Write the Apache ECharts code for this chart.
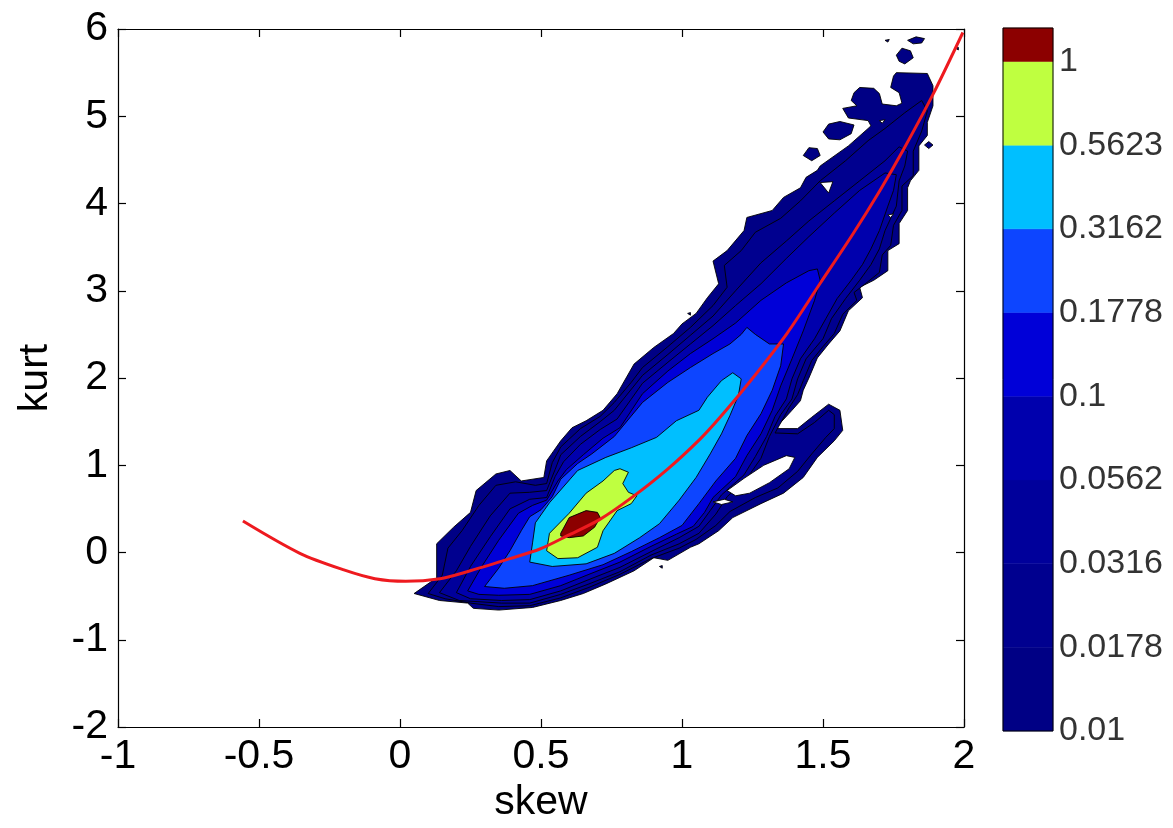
<!DOCTYPE html>
<html><head><meta charset="utf-8">
<script src="https://cdn.jsdelivr.net/npm/echarts/dist/echarts.min.js"></script>
<style>html,body{margin:0;padding:0;background:#fff}#c{width:1173px;height:828px}</style>
</head><body><div id="c"></div>
<script>
// ---- axis ticks / labels ----
const xTicks = { min: -1, max: 2, interval: 0.5 };
const yTicks = { min: -2, max: 6, interval: 1 };
const cbTickLabels = ['0.01','0.0178','0.0316','0.0562','0.1','0.1778','0.3162','0.5623','1'];
const cbBands = [[0,1],[1,2],[2,3],[3,4],[4,5],[5,6],[6,7],[7,8],[8,8.4]];
const levelColors = ['#000085','#00008f','#00009b','#0000ad','#0000d8','#0d45ff','#00bfff','#bfff40','#8c0000'];

// ---- red curve (skew, kurt) ----
const curveSkew = [-0.557,-0.355,-0.199,-0.089,0.02,0.142,0.238,0.39,0.496,0.592,0.709,0.826,0.947,1.064,1.135,1.241,1.372,1.489,1.606,1.702,1.784,1.890,1.996];
const curveKurt = [0.36,-0.01,-0.20,-0.30,-0.33,-0.30,-0.22,-0.07,0.04,0.19,0.38,0.64,0.95,1.30,1.55,1.96,2.51,3.08,3.65,4.15,4.61,5.25,5.96];

// ---- filled contour regions (skew, kurt) ----
const level0 = [[0.05,-0.47],[0.13,-0.29],[0.13,0.10],[0.19,0.29],[0.25,0.46],[0.27,0.71],[0.34,0.90],[0.39,0.94],[0.43,0.82],[0.51,0.86],[0.52,1.05],[0.57,1.28],[0.61,1.43],[0.66,1.51],[0.72,1.63],[0.77,1.82],[0.83,2.16],[0.90,2.35],[0.97,2.51],[1.00,2.62],[1.05,2.74],[1.09,2.92],[1.13,3.08],[1.11,3.34],[1.16,3.46],[1.22,3.69],[1.23,3.84],[1.32,3.92],[1.36,4.07],[1.42,4.18],[1.44,4.30],[1.48,4.38],[1.49,4.43],[1.59,4.66],[1.66,4.86],[1.67,4.89],[1.66,4.95],[1.59,4.98],[1.57,5.09],[1.62,5.12],[1.60,5.18],[1.61,5.27],[1.63,5.33],[1.68,5.32],[1.70,5.26],[1.71,5.14],[1.76,5.12],[1.78,5.15],[1.77,5.27],[1.74,5.33],[1.75,5.46],[1.76,5.50],[1.87,5.49],[1.89,5.35],[1.89,5.12],[1.87,4.93],[1.87,4.78],[1.84,4.66],[1.84,4.51],[1.84,4.38],[1.81,4.26],[1.80,4.18],[1.80,3.92],[1.77,3.77],[1.77,3.54],[1.73,3.46],[1.73,3.23],[1.68,3.12],[1.63,3.04],[1.64,2.92],[1.59,2.77],[1.56,2.54],[1.52,2.39],[1.48,2.23],[1.45,2.00],[1.43,1.86],[1.42,1.74],[1.39,1.63],[1.33,1.42],[1.41,1.42],[1.46,1.55],[1.52,1.70],[1.56,1.63],[1.57,1.40],[1.54,1.28],[1.48,1.09],[1.43,0.86],[1.36,0.68],[1.28,0.56],[1.18,0.40],[1.13,0.25],[1.06,0.10],[1.03,0.06],[0.95,-0.09],[0.90,-0.06],[0.83,-0.21],[0.73,-0.36],[0.65,-0.47],[0.57,-0.55],[0.47,-0.63],[0.35,-0.66],[0.26,-0.64],[0.24,-0.58],[0.14,-0.55]];
const islands0 = [
  [[1.80,5.87],[1.83,5.91],[1.86,5.89],[1.85,5.84],[1.82,5.83]],
  [[1.76,5.70],[1.78,5.78],[1.81,5.75],[1.82,5.67],[1.79,5.60],[1.77,5.63]],
  [[1.50,4.82],[1.52,4.91],[1.56,4.94],[1.61,4.90],[1.60,4.80],[1.56,4.73],[1.52,4.74]],
  [[1.43,4.55],[1.45,4.64],[1.48,4.63],[1.49,4.55],[1.46,4.49]],
  [[1.86,4.67],[1.875,4.71],[1.89,4.67],[1.875,4.63]],
  [[1.72,5.87],[1.735,5.88],[1.73,5.85]],
  [[1.97,5.78],[1.98,5.79],[1.98,5.76]],
  [[1.02,2.74],[1.03,2.75],[1.03,2.72]],
  [[0.92,-0.16],[0.93,-0.15],[0.93,-0.18]]
];
const level1 = [[0.10,-0.47],[0.15,-0.26],[0.17,0.05],[0.22,0.25],[0.28,0.54],[0.34,0.77],[0.41,0.81],[0.48,0.77],[0.52,0.79],[0.54,1.03],[0.57,1.21],[0.64,1.42],[0.71,1.56],[0.76,1.72],[0.82,1.95],[0.86,2.12],[0.95,2.36],[1.03,2.58],[1.11,2.83],[1.16,3.04],[1.15,3.29],[1.21,3.46],[1.26,3.67],[1.35,3.83],[1.42,4.03],[1.49,4.26],[1.58,4.49],[1.66,4.72],[1.72,4.86],[1.79,5.04],[1.85,5.18],[1.87,5.06],[1.85,4.83],[1.82,4.60],[1.82,4.32],[1.78,4.20],[1.78,3.92],[1.75,3.75],[1.74,3.52],[1.71,3.41],[1.70,3.21],[1.65,3.08],[1.61,2.98],[1.62,2.89],[1.57,2.73],[1.54,2.51],[1.50,2.36],[1.46,2.20],[1.43,1.97],[1.41,1.81],[1.38,1.66],[1.33,1.37],[1.41,1.36],[1.47,1.49],[1.52,1.63],[1.54,1.58],[1.54,1.42],[1.51,1.32],[1.46,1.13],[1.41,0.93],[1.34,0.74],[1.26,0.63],[1.17,0.47],[1.12,0.31],[1.05,0.15],[0.99,0.05],[0.89,-0.07],[0.78,-0.25],[0.67,-0.40],[0.57,-0.52],[0.46,-0.61],[0.35,-0.62],[0.25,-0.58],[0.16,-0.53]];
const level2 = [[0.14,-0.46],[0.20,-0.21],[0.25,0.07],[0.32,0.42],[0.39,0.68],[0.46,0.69],[0.52,0.71],[0.55,0.95],[0.57,1.12],[0.64,1.33],[0.71,1.50],[0.76,1.63],[0.86,2.03],[0.95,2.27],[1.03,2.49],[1.11,2.71],[1.19,3.00],[1.28,3.32],[1.37,3.57],[1.45,3.80],[1.54,4.03],[1.63,4.26],[1.72,4.49],[1.77,4.65],[1.80,4.60],[1.79,4.43],[1.77,4.26],[1.76,3.97],[1.72,3.69],[1.70,3.48],[1.67,3.30],[1.63,3.12],[1.58,2.91],[1.53,2.68],[1.50,2.45],[1.44,2.22],[1.41,1.99],[1.39,1.76],[1.35,1.58],[1.31,1.33],[1.28,1.08],[1.23,0.85],[1.16,0.64],[1.12,0.44],[1.06,0.22],[0.99,0.10],[0.89,-0.03],[0.78,-0.22],[0.67,-0.36],[0.57,-0.48],[0.46,-0.58],[0.36,-0.58],[0.21,-0.55]];
const level3 = [[0.20,-0.46],[0.25,-0.16],[0.32,0.18],[0.39,0.50],[0.46,0.61],[0.52,0.63],[0.55,0.87],[0.58,1.04],[0.64,1.24],[0.71,1.41],[0.77,1.53],[0.86,1.94],[0.95,2.18],[1.03,2.39],[1.11,2.60],[1.19,2.83],[1.28,3.08],[1.37,3.37],[1.45,3.62],[1.54,3.89],[1.63,4.15],[1.72,4.35],[1.76,4.33],[1.75,4.15],[1.73,3.97],[1.70,3.69],[1.67,3.48],[1.64,3.30],[1.60,3.12],[1.55,2.91],[1.51,2.68],[1.47,2.45],[1.42,2.22],[1.39,1.99],[1.37,1.76],[1.33,1.56],[1.30,1.33],[1.26,1.10],[1.22,0.89],[1.14,0.66],[1.10,0.48],[1.06,0.30],[0.99,0.17],[0.89,0.01],[0.78,-0.17],[0.67,-0.31],[0.57,-0.44],[0.46,-0.54],[0.36,-0.55],[0.25,-0.53]];
const level4 = [[0.24,-0.44],[0.29,-0.16],[0.35,0.14],[0.42,0.45],[0.47,0.54],[0.52,0.60],[0.56,0.82],[0.59,0.95],[0.65,1.12],[0.72,1.31],[0.78,1.43],[0.86,1.82],[0.95,2.08],[1.03,2.28],[1.11,2.45],[1.19,2.63],[1.28,2.89],[1.37,3.09],[1.45,3.23],[1.48,3.25],[1.49,3.12],[1.47,2.89],[1.43,2.54],[1.39,2.22],[1.35,1.91],[1.32,1.63],[1.28,1.36],[1.23,1.11],[1.19,0.87],[1.11,0.63],[1.08,0.46],[1.04,0.30],[0.98,0.21],[0.89,0.07],[0.78,-0.11],[0.67,-0.25],[0.57,-0.38],[0.46,-0.48],[0.35,-0.49],[0.28,-0.48]];
const level5 = [[0.30,-0.39],[0.35,-0.18],[0.39,0.02],[0.43,0.25],[0.46,0.41],[0.50,0.49],[0.54,0.64],[0.57,0.84],[0.63,1.02],[0.68,1.13],[0.76,1.33],[0.86,1.72],[0.95,1.95],[1.03,2.12],[1.11,2.28],[1.17,2.39],[1.21,2.50],[1.23,2.58],[1.26,2.50],[1.31,2.39],[1.36,2.39],[1.35,2.14],[1.32,1.86],[1.28,1.59],[1.23,1.34],[1.19,1.08],[1.12,0.82],[1.06,0.56],[1.00,0.31],[0.92,0.17],[0.82,0.01],[0.72,-0.14],[0.60,-0.26],[0.47,-0.38],[0.37,-0.41]];
const level6 = [[0.46,-0.11],[0.47,0.11],[0.48,0.34],[0.53,0.57],[0.63,0.94],[0.73,1.09],[0.82,1.20],[0.91,1.32],[0.98,1.51],[1.06,1.63],[1.09,1.78],[1.14,1.97],[1.18,2.06],[1.21,1.99],[1.20,1.80],[1.17,1.57],[1.14,1.36],[1.10,1.13],[1.05,0.86],[0.99,0.60],[0.92,0.33],[0.85,0.17],[0.76,-0.01],[0.66,-0.13],[0.54,-0.16]];
const level7 = [[0.78,0.96],[0.81,0.92],[0.79,0.79],[0.81,0.69],[0.84,0.65],[0.82,0.56],[0.77,0.48],[0.72,0.25],[0.70,0.06],[0.63,-0.06],[0.56,-0.07],[0.52,0.02],[0.53,0.22],[0.60,0.45],[0.66,0.68],[0.72,0.82],[0.76,0.94]];
const level8 = [[0.57,0.22],[0.60,0.40],[0.66,0.48],[0.70,0.46],[0.71,0.40],[0.69,0.29],[0.65,0.19],[0.60,0.17],[0.57,0.19]];
const holes = [
  [[1.16,0.71],[1.22,0.85],[1.29,1.00],[1.37,1.11],[1.40,1.09],[1.38,0.96],[1.31,0.80],[1.24,0.68],[1.19,0.65]],
  [[1.11,0.58],[1.15,0.61],[1.18,0.58],[1.14,0.55]],
  [[1.49,4.24],[1.535,4.25],[1.52,4.12]],
  [[1.70,4.95],[1.72,4.96],[1.71,4.92]],
  [[1.73,3.87],[1.75,3.88],[1.74,3.84]]
];

const FONT = "'Liberation Sans', Arial, Helvetica, sans-serif";

function polySeries(polys, fill) {
  return {
    type: 'custom', coordinateSystem: 'cartesian2d', xAxisIndex: 0, yAxisIndex: 0,
    silent: true, animation: false, clip: true,
    data: polys.map(p => p[0]),
    renderItem: (params, api) => ({
      type: 'polygon',
      shape: { points: polys[params.dataIndex].map(pt => api.coord(pt)) },
      style: { fill: fill, stroke: '#000', lineWidth: 0.9 }
    })
  };
}

const axisLineStyle = { color: '#000', width: 1.2 };
const chart = echarts.init(document.getElementById('c'), null, { renderer: 'canvas' });
const levelsList = [[level0].concat(islands0), [level1], [level2], [level3], [level4], [level5], [level6], [level7], [level8]];
const series = levelsList.map((polys, i) => polySeries(polys, levelColors[i]));
series.push(polySeries(holes, '#ffffff'));
series.push({
  type: 'line', xAxisIndex: 0, yAxisIndex: 0, smooth: 0.3, showSymbol: false, symbol: 'none',
  data: curveSkew.map((s, i) => [s, curveKurt[i]]),
  lineStyle: { color: '#ee1a1f', width: 3 }, z: 5, animation: false, silent: true
});
series.push({
  type: 'custom', coordinateSystem: 'cartesian2d', xAxisIndex: 2, yAxisIndex: 2,
  silent: true, animation: false,
  data: cbBands.map(b => [0.5, (b[0] + b[1]) / 2]),
  renderItem: (params, api) => {
    const b = cbBands[params.dataIndex];
    const p1 = api.coord([0, b[1]]), p2 = api.coord([1, b[0]]);
    return { type: 'rect', shape: { x: p1[0], y: p1[1], width: p2[0] - p1[0], height: p2[1] - p1[1] },
      style: { fill: levelColors[params.dataIndex], stroke: levelColors[params.dataIndex], lineWidth: 0.5 } };
  }
});
series.push({
  type: 'custom', coordinateSystem: 'cartesian2d', xAxisIndex: 2, yAxisIndex: 2,
  silent: true, animation: false, z: 4,
  data: [[0.5, 4]],
  renderItem: (params, api) => {
    const p1 = api.coord([0, 8.4]), p2 = api.coord([1, 0]);
    return { type: 'rect', shape: { x: p1[0], y: p1[1], width: p2[0] - p1[0], height: p2[1] - p1[1] },
      style: { fill: 'none', stroke: '#000', lineWidth: 1 } };
  }
});

chart.setOption({
  backgroundColor: '#ffffff',
  animation: false,
  grid: [
    { left: 118, top: 29, width: 846, height: 698 },
    { left: 1003, top: 28, width: 50, height: 703 }
  ],
  xAxis: [
    { gridIndex: 0, type: 'value', min: xTicks.min, max: xTicks.max, interval: xTicks.interval, position: 'bottom',
      axisLine: { show: true, onZero: false, lineStyle: axisLineStyle },
      axisTick: { show: true, inside: true, length: 8, lineStyle: axisLineStyle },
      axisLabel: { fontSize: 41, lineHeight: 41, color: '#000', fontFamily: FONT, margin: 9 },
      splitLine: { show: false },
      name: 'skew', nameLocation: 'middle', nameGap: 55,
      nameTextStyle: { fontSize: 41, color: '#000', fontFamily: FONT } },
    { gridIndex: 0, type: 'value', min: xTicks.min, max: xTicks.max, interval: xTicks.interval, position: 'top',
      axisLine: { show: true, onZero: false, lineStyle: axisLineStyle },
      axisTick: { show: true, inside: true, length: 8, lineStyle: axisLineStyle },
      axisLabel: { show: false }, splitLine: { show: false } },
    { gridIndex: 1, type: 'value', min: 0, max: 1, show: false }
  ],
  yAxis: [
    { gridIndex: 0, type: 'value', min: yTicks.min, max: yTicks.max, interval: yTicks.interval, position: 'left',
      axisLine: { show: true, onZero: false, lineStyle: axisLineStyle },
      axisTick: { show: true, inside: true, length: 8, lineStyle: axisLineStyle },
      axisLabel: { fontSize: 41, color: '#000', fontFamily: FONT, margin: 10 },
      splitLine: { show: false },
      name: 'kurt', nameLocation: 'middle', nameGap: 62, nameRotate: 90,
      nameTextStyle: { fontSize: 41, color: '#000', fontFamily: FONT } },
    { gridIndex: 0, type: 'value', min: yTicks.min, max: yTicks.max, interval: yTicks.interval, position: 'right',
      axisLine: { show: true, onZero: false, lineStyle: axisLineStyle },
      axisTick: { show: true, inside: true, length: 8, lineStyle: axisLineStyle },
      axisLabel: { show: false }, splitLine: { show: false } },
    { gridIndex: 1, type: 'value', min: 0, max: 8.4, interval: 1, position: 'right',
      axisLine: { show: false }, axisTick: { show: false }, splitLine: { show: false },
      axisLabel: { fontSize: 34, color: '#333', fontFamily: FONT, margin: 6,
        formatter: v => (Math.abs(v - Math.round(v)) < 1e-6 && cbTickLabels[Math.round(v)] !== undefined) ? cbTickLabels[Math.round(v)] : '' } }
  ],
  series: series
});
</script></body></html>
